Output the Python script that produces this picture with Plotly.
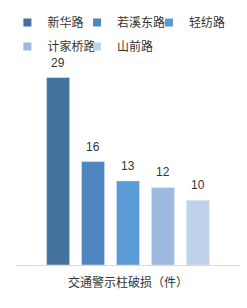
import plotly.graph_objects as go

roads = ["新华路", "若溪东路", "轻纺路", "计家桥路", "山前路"]
values = [29, 16, 13, 12, 10]
category = ["交通警示柱破损（件）"]
colors = ["#44729F", "#4F86C0", "#5B9BD5", "#9DBAE0", "#BFD2EB"]

FONT = "Liberation Sans, Noto Sans CJK SC, sans-serif"
SLOT_PX = 35  # pixel distance between neighbouring bars
# legend placement (container fraction): column x and row y for each entry
legend_x = [0.030, 0.312, 0.603, 0.030, 0.312]
legend_y = [0.974, 0.974, 0.974, 0.896, 0.896]

fig = go.Figure()
n = len(roads)
legend_layout = {}
for i, (name, v, c) in enumerate(zip(roads, values, colors)):
    lg = "legend" if i == 0 else f"legend{i + 1}"
    fig.add_trace(go.Bar(
        x=category, y=[v], name=name, marker_color=c,
        showlegend=False,
    ))
    fig.add_trace(go.Scatter(
        x=[None], y=[None], mode="markers", name=name,
        marker=dict(symbol="square", size=8, color=c),
        showlegend=True, legend=lg,
    ))
    fig.add_annotation(
        x=category[0], y=v, text=str(v), showarrow=False,
        xshift=(i - (n - 1) / 2) * SLOT_PX, yanchor="bottom", yshift=6,
        font=dict(size=12, color="#333333", family=FONT),
    )
    legend_layout[lg] = dict(
        orientation="h", xref="container", xanchor="left",
        yref="container", yanchor="top",
        x=legend_x[i], y=legend_y[i],
        font=dict(size=12, color="#333333", family=FONT),
        itemwidth=30, bgcolor="rgba(0,0,0,0)",
    )

fig.update_layout(
    width=247, height=308,
    margin=dict(l=16, r=7, t=62, b=43, autoexpand=False),
    paper_bgcolor="white", plot_bgcolor="white",
    barmode="group", bargap=0.22, bargroupgap=0.34,
    font=dict(family=FONT, size=12, color="#333333"),
    xaxis=dict(
        showline=True, linecolor="#D9D9D9", linewidth=1,
        ticks="", ticklabelstandoff=7,
        tickfont=dict(size=12, color="#333333", family=FONT),
        showgrid=False,
    ),
    yaxis=dict(
        range=[0, 31.4], visible=False, showgrid=False, zeroline=False,
    ),
    **legend_layout,
)

fig.write_html("out.html")
